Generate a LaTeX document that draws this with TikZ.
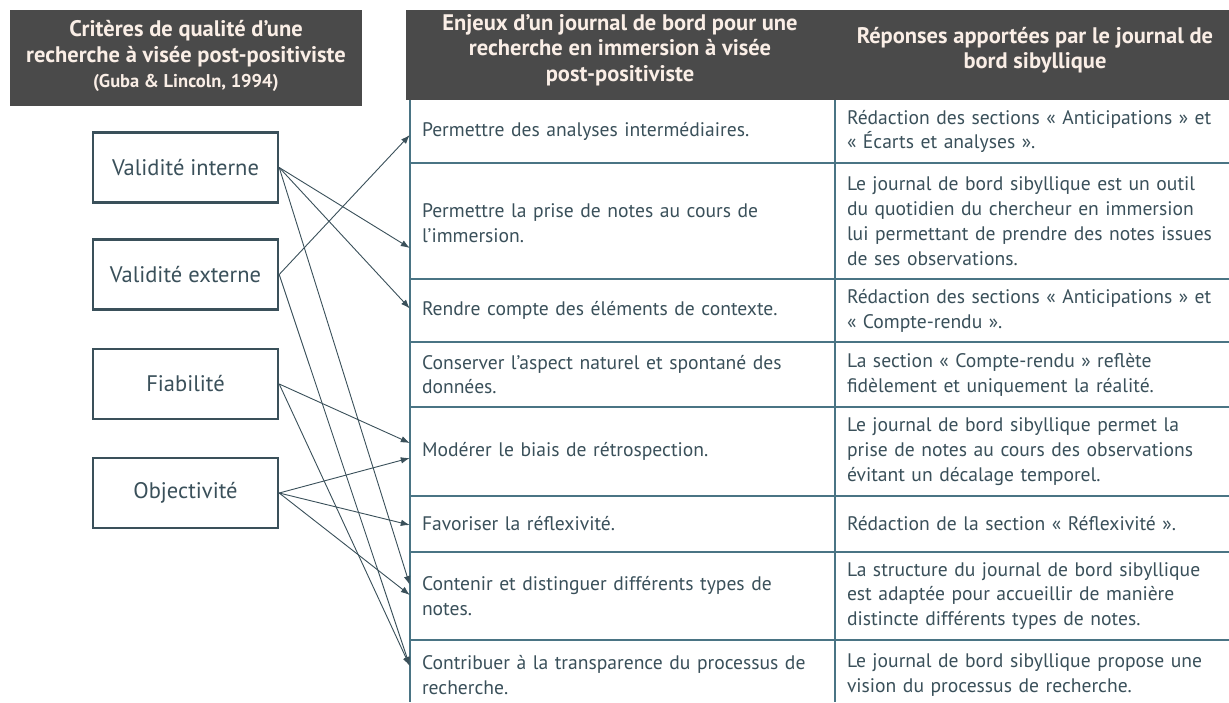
\documentclass[tikz,border=0pt]{standalone}
\usepackage{fontspec}
\setmainfont{PT Sans}
\usetikzlibrary{calc,positioning,arrows.meta}
\definecolor{HeadGrey}{RGB}{74,74,74}
\definecolor{HeadText}{RGB}{250,238,230}
\definecolor{InkSlate}{RGB}{58,80,90}
\definecolor{RuleTeal}{RGB}{74,116,132}
\tikzset{
    headbox/.style={fill=HeadGrey,draw=none,text=HeadText,font=\bfseries\fontsize{22.5}{25.5}\selectfont,align=center,inner sep=0pt},
    critbox/.style={draw=InkSlate,line width=2.4pt,fill=white,minimum width=185pt,minimum height=70pt,text=InkSlate,font=\fontsize{22.5}{26}\selectfont,inner sep=0pt},
    enjeucell/.style={text=InkSlate,align=left,font=\fontsize{19.6}{24.8}\selectfont,inner xsep=12pt,inner ysep=0pt,text width=401pt},
    reponsecell/.style={text=InkSlate,align=left,font=\fontsize{19.6}{24.8}\selectfont,inner xsep=12pt,inner ysep=0pt,text width=380pt},
    tablerule/.style={draw=RuleTeal,line width=1.3pt},
    link/.style={draw=InkSlate,line width=0.9pt,-{Latex[length=9pt,width=6.5pt]}}
}

\begin{document}
\begin{tikzpicture}[x=1pt,y=-1pt]
		\useasboundingbox[fill=white] (0,0) rectangle (1229,702);
		% headers
		\fill[HeadGrey] (10,10) rectangle (362,106);
		\node[headbox] (critHead) at (186,56) {Critères de qualité d’une\\recherche à visée post-positiviste\\{\fontsize{18.5}{24}\selectfont (Guba \& Lincoln, 1994)}};
		\fill[HeadGrey] (406,10) rectangle (1229,100);
		\node[headbox] (enjeuHead) at (620,50) {Enjeux d’un journal de bord pour une\\recherche en immersion à visée\\post-positiviste};
		\node[headbox] (reponseHead) at (1035,50) {Réponses apportées par le journal de\\bord sibyllique};
		% table grid
		\foreach \y in {163,279,342,407,496,552,640}
			\draw[tablerule] (410,\y) -- (1229,\y);
		\draw[tablerule] (410,100) -- (410,702);
		\draw[tablerule] (835,100) -- (835,702);
		% left column: enjeux
		\node[enjeucell,minimum height=63pt] (e1) at (622.5,131.5) {Permettre des analyses intermédiaires.};
		\node[enjeucell,minimum height=116pt] (e2) at (622.5,223) {Permettre la prise de notes au cours de\\l’immersion.};
		\node[enjeucell,minimum height=63pt] (e3) at (622.5,310.5) {Rendre compte des éléments de contexte.};
		\node[enjeucell,minimum height=65pt] (e4) at (622.5,374.5) {Conserver l’aspect naturel et spontané des\\données.};
		\node[enjeucell,minimum height=89pt] (e5) at (622.5,451.5) {Modérer le biais de rétrospection.};
		\node[enjeucell,minimum height=56pt] (e6) at (622.5,524) {Favoriser la réflexivité.};
		\node[enjeucell,minimum height=88pt] (e7) at (622.5,596) {Contenir et distinguer différents types de\\notes.};
		\node[enjeucell,minimum height=62pt] (e8) at (622.5,675) {Contribuer à la transparence du processus de\\recherche.};
		% right column: reponses
		\node[reponsecell] (r1) at (1037,131.5) {Rédaction des sections « Anticipations » et\\« Écarts et analyses ».};
		\node[reponsecell] (r2) at (1037,221) {Le journal de bord sibyllique est un outil\\du quotidien du chercheur en immersion\\lui permettant de prendre des notes issues\\de ses observations.};
		\node[reponsecell] (r3) at (1037,310.5) {Rédaction des sections « Anticipations » et\\« Compte-rendu ».};
		\node[reponsecell] (r4) at (1037,374.5) {La section « Compte-rendu » reflète\\fidèlement et uniquement la réalité.};
		\node[reponsecell] (r5) at (1037,451.5) {Le journal de bord sibyllique permet la\\prise de notes au cours des observations\\évitant un décalage temporel.};
		\node[reponsecell] (r6) at (1037,524) {Rédaction de la section « Réflexivité ».};
		\node[reponsecell] (r7) at (1037,596) {La structure du journal de bord sibyllique\\est adaptée pour accueillir de manière\\distincte différents types de notes.};
		\node[reponsecell] (r8) at (1037,675) {Le journal de bord sibyllique propose une\\vision du processus de recherche.};
		% criteria boxes
		\node[critbox] (vi) at (185.5,167.5) {Validité interne};
		\node[critbox] (ve) at (185.5,274.5) {Validité externe};
		\node[critbox] (fia) at (185.5,384) {Fiabilité};
		\node[critbox] (obj) at (185.5,493) {Objectivité};
		% links
		\draw[link] (ve.east) -- ([yshift=-3.5pt]e1.west);
		\draw[link] (vi.east) -- ([yshift=-25pt]e2.west);
		\draw[link] (vi.east) -- ([yshift=2pt]e3.west);
		\draw[link] (vi.east) -- ([yshift=11pt]e7.west);
		\draw[link] (ve.east) -- ([yshift=9pt]e8.west);
		\draw[link] (fia.east) -- ([yshift=8.5pt]e5.west);
		\draw[link] (fia.east) -- ([yshift=9pt]e8.west);
		\draw[link] (obj.east) -- ([yshift=-6.5pt]e5.west);
		\draw[link] (obj.east) -- ([yshift=-1pt]e6.west);
		\draw[link] (obj.east) -- ([yshift=1pt]e7.west);
\end{tikzpicture}
\end{document}
